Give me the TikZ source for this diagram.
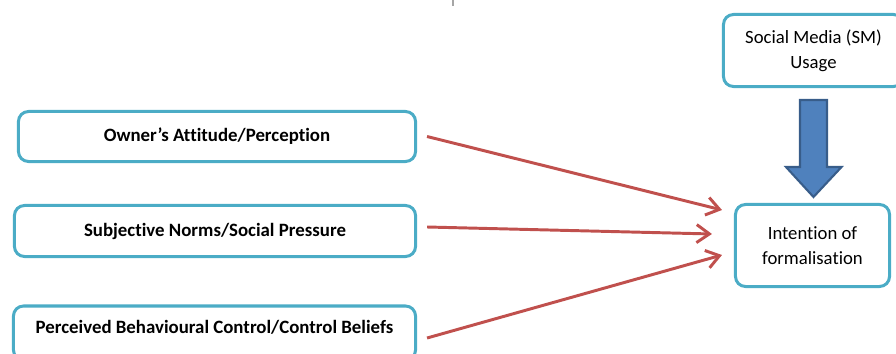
\documentclass[tikz,border=0pt]{standalone}
\usepackage{fontspec}
\setmainfont{Carlito}[Ligatures=NoCommon]
\usepackage{tikz}
\usetikzlibrary{calc,arrows.meta}
\definecolor{boxline}{HTML}{4BACC6}
\definecolor{arrowred}{HTML}{C0504D}
\definecolor{arrowblue}{HTML}{4F81BD}
\definecolor{arrowblueline}{HTML}{385D8A}

\begin{document}
\begin{tikzpicture}[x=0.025cm,y=-0.025cm,
  factorbox/.style={draw=boxline,line width=0.075cm,rounded corners=0.25cm,fill=white,font=\fontsize{13.4}{16}\selectfont\bfseries},
  outcomebox/.style={draw=boxline,line width=0.075cm,rounded corners=0.25cm,fill=white,align=center,font=\fontsize{13.3}{17.5}\selectfont},
  influence/.style={draw=arrowred,line width=2.1pt,-{Straight Barb[length=0.32cm,width=0.45cm]}}]
\useasboundingbox (0,0) rectangle (896,354);
\clip (0,0) rectangle (896,354);
\draw[gray!70,line width=1pt] (453,0) -- (453,6);
\node[factorbox,minimum width=9.925cm,minimum height=1.25cm] (owner) at (217,136.5) {Owner’s Attitude/Perception};
\node[factorbox,minimum width=10.025cm,minimum height=1.275cm] (norms) at (215,231) {Subjective Norms/Social Pressure};
\node[factorbox,minimum width=10.05cm,anchor=north,inner ysep=0.36cm,text depth=0.3cm] (control) at (214.5,304.5) {Perceived Behavioural Control/Control Beliefs};
\node[outcomebox,minimum width=3.85cm,minimum height=2.05cm] (intent) at (812.5,245.5) {Intention of\\formalisation};
\node[outcomebox,minimum width=4.5cm,minimum height=1.8cm] (sm) at (813.5,50.5) {Social Media (SM)\\Usage};
\draw[influence] ($(owner.east)+(10,0)$) -- ($(intent.west)+(-12,-35.5)$);
\draw[influence] ($(norms.east)+(10,-4)$) -- ($(intent.west)+(-22,-11.5)$);
\draw[influence] ($(control.east)+(10,5)$) -- ($(intent.west)+(-12,9.5)$);
\filldraw[fill=arrowblue,draw=arrowblueline,line width=1.5pt,line join=miter]
  ($(sm.south)+(-13.5,12)$) -- ($(sm.south)+(13.5,12)$) -- ($(sm.south)+(13.5,79)$)
  -- ($(sm.south)+(28,79)$) -- ($(intent.north)+(1,-6)$) -- ($(sm.south)+(-27.5,79)$)
  -- ($(sm.south)+(-13.5,79)$) -- cycle;
\end{tikzpicture}
\end{document}
